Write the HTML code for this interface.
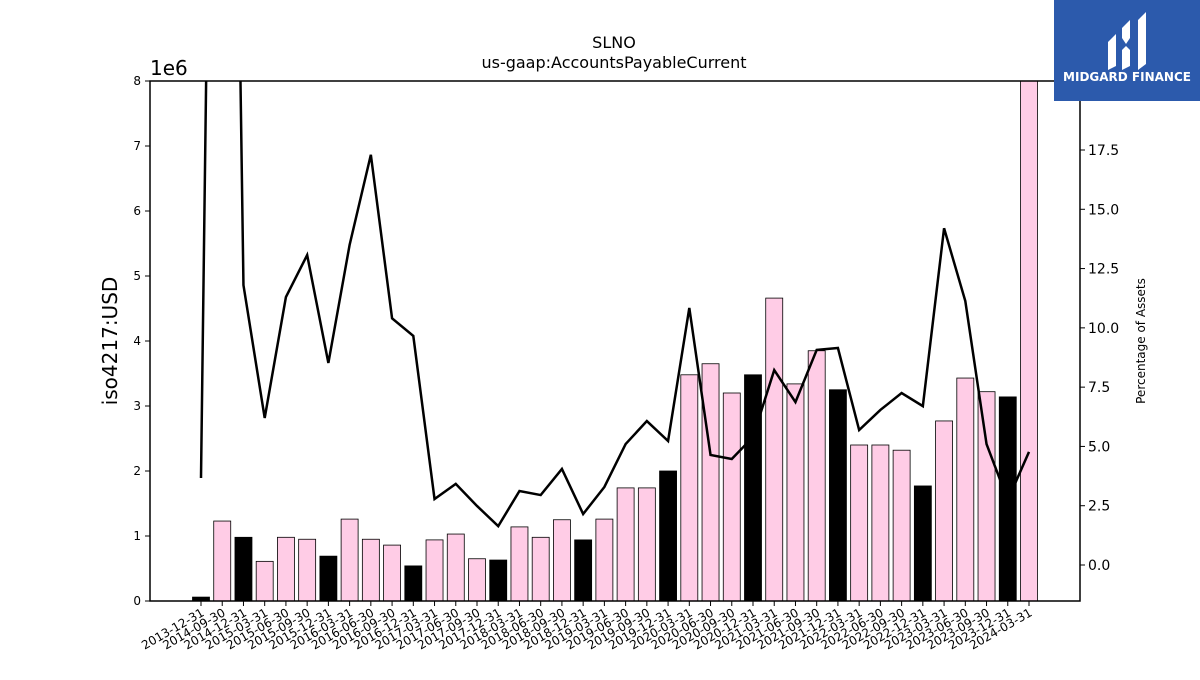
<!DOCTYPE html>
<html><head><meta charset="utf-8"><style>
body{margin:0;background:#fff;}
svg text{font-family:"DejaVu Sans","Liberation Sans",sans-serif;}
</style></head><body>
<svg id="chart" width="1200" height="675" xmlns="http://www.w3.org/2000/svg">
<rect width="1200" height="675" fill="#fff"/>
<text x="614" y="48" font-size="16" text-anchor="middle">SLNO</text>
<text x="614" y="68" font-size="16" text-anchor="middle">us-gaap:AccountsPayableCurrent</text>
<text x="150" y="75" font-size="20">1e6</text>
<text transform="translate(117,341) rotate(-90)" font-size="20" text-anchor="middle">iso4217:USD</text>
<text transform="translate(1145,341) rotate(-90)" font-size="12" text-anchor="middle">Percentage of Assets</text>
<g id="bars"></g><g id="line"></g><g id="axes"></g>
<g>
<rect x="1054" y="0" width="146" height="101" fill="#2c5aac"/>
<path d="M1108 42 L1116 34 L1116 66 L1108 70 Z M1122 28 L1130 20 L1130 38 L1126 44 L1122 38 Z M1122 50 L1126 46 L1130 50 L1130 66 L1122 70 Z M1138 20 L1146 12 L1146 64 L1138 70 Z" fill="#fff"/>
<text x="1127" y="81" font-size="12" font-weight="bold" fill="#fff" text-anchor="middle">MIDGARD FINANCE</text>
</g>
</svg>
<script>
const categories=["2013-12-31","2014-09-30","2014-12-31","2015-03-31","2015-06-30","2015-09-30","2015-12-31","2016-03-31","2016-06-30","2016-09-30","2016-12-31","2017-03-31","2017-06-30","2017-09-30","2017-12-31","2018-03-31","2018-06-30","2018-09-30","2018-12-31","2019-03-31","2019-06-30","2019-09-30","2019-12-31","2020-03-31","2020-06-30","2020-09-30","2020-12-31","2021-03-31","2021-06-30","2021-09-30","2021-12-31","2022-03-31","2022-06-30","2022-09-30","2022-12-31","2023-03-31","2023-06-30","2023-09-30","2023-12-31","2024-03-31"];
const payable=[0.06,1.23,0.98,0.61,0.98,0.95,0.69,1.26,0.95,0.86,0.54,0.94,1.03,0.65,0.63,1.14,0.98,1.25,0.94,1.26,1.74,1.74,2.0,3.48,3.65,3.2,3.48,4.66,3.34,3.85,3.25,2.4,2.4,2.32,1.77,2.77,3.43,3.22,3.14,8.5];
const pctAssets=[3.67,73,11.8,6.2,11.3,13.07,8.52,13.5,17.3,10.4,9.66,2.78,3.42,2.49,1.64,3.12,2.95,4.05,2.15,3.29,5.1,6.07,5.23,10.84,4.64,4.47,5.4,8.22,6.87,9.07,9.15,5.69,6.54,7.25,6.7,14.2,11.13,5.1,2.74,4.77];
const yTicks=[0,1,2,3,4,5,6,7,8];
const y2Ticks=[0.0,2.5,5.0,7.5,10.0,12.5,15.0,17.5];
const NS="http://www.w3.org/2000/svg";
const L=150,R=1080,T=81,B=601;
const x=i=>201+i*(1029-201)/(categories.length-1);
const y=v=>B-v*(B-T)/8;
const y2=v=>565-v*(415/17.5);
function mk(tag,attrs,parent){const e=document.createElementNS(NS,tag);for(const k in attrs)e.setAttribute(k,attrs[k]);parent.appendChild(e);return e;}
const svg=document.getElementById('chart');
const clip=mk('clipPath',{id:'pc'},svg);mk('rect',{x:L,y:T,width:R-L,height:B-T},clip);
const bars=document.getElementById('bars');bars.setAttribute('clip-path','url(#pc)');
const bw=17;
payable.forEach((v,i)=>{const r=mk('rect',{x:x(i)-bw/2,y:y(v),width:bw,height:B-y(v),fill:categories[i].endsWith('12-31')?'#000':'#ffcce6',stroke:'#000','stroke-width':0.8},bars);

});
const lg=document.getElementById('line');lg.setAttribute('clip-path','url(#pc)');
const p=mk('polyline',{points:pctAssets.map((v,i)=>x(i)+','+y2(v)).join(' '),fill:'none',stroke:'#000','stroke-width':2.5},lg);


const ax=document.getElementById('axes');
const fr=mk('rect',{x:L,y:T,width:R-L,height:B-T,fill:'none',stroke:'#000','stroke-width':1.5},ax);


yTicks.forEach(v=>{mk('line',{x1:L-5,x2:L,y1:y(v),y2:y(v),stroke:'#000'},ax);
const t=mk('text',{x:L-9,y:y(v)+4,'font-size':12,'text-anchor':'end'},ax);t.textContent=v;

});
y2Ticks.forEach(v=>{mk('line',{x1:R,x2:R+5,y1:y2(v),y2:y2(v),stroke:'#000'},ax);
const t=mk('text',{x:R+8,y:y2(v)+5,'font-size':14},ax);t.textContent=v.toFixed(1);

});
categories.forEach((c,i)=>{mk('line',{x1:x(i),x2:x(i),y1:B,y2:B+5,stroke:'#000'},ax);
const t=mk('text',{transform:`translate(${x(i)+4},${B+14}) rotate(-30)`,'font-size':12,'text-anchor':'end'},ax);t.textContent=c;

});
</script>
</body></html>
